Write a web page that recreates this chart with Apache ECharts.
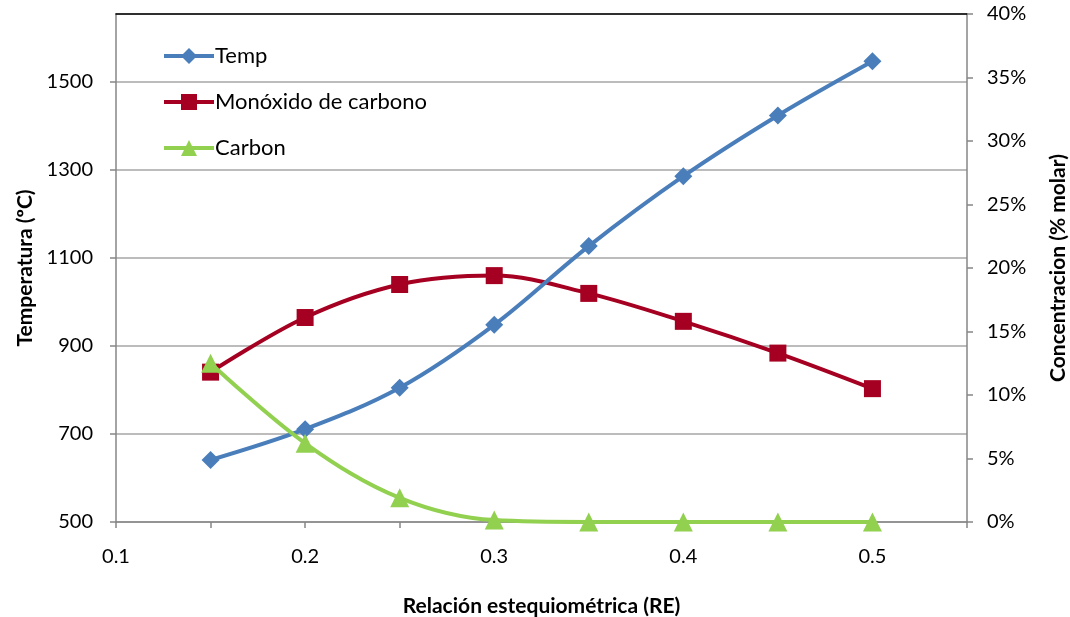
<!DOCTYPE html>
<html>
<head>
<meta charset="utf-8">
<script src="https://cdn.jsdelivr.net/npm/echarts@6/dist/echarts.min.js"></script>
<style>
  html, body { margin: 0; padding: 0; background: #fff; }
  #chart { width: 1070px; height: 617px; }
</style>
</head>
<body>
<div id="chart"></div>
<script>
// Relación estequiométrica (RE)
const re = [0.15, 0.2, 0.25, 0.3, 0.35, 0.4, 0.45, 0.5];
// Temperatura (ºC)
const temp = [641, 711, 805, 948, 1127, 1286, 1424, 1547];
// Concentración molar (%)
const monoxido = [11.8, 16.1, 18.7, 19.4, 18.0, 15.8, 13.3, 10.5];
const carbon = [12.5, 6.2, 1.9, 0.15, 0, 0, 0, 0];

const seriesNames = ['Temp', 'Monóxido de carbono', 'Carbon'];

const pair = (xs, ys) => xs.map((x, i) => [x, ys[i]]);

const font = 'Lato, "Open Sans", sans-serif';
const axisGray = '#868686';
const gridGray = '#a6a6a6';
const titleStyle = { fontFamily: font, fontSize: 21, fontWeight: 'bold', color: '#000' };

const chart = echarts.init(document.getElementById('chart'));
chart.setOption({
  animation: false,
  backgroundColor: '#fff',
  textStyle: { fontFamily: font },
  grid: { left: 116, right: 103, top: 14, bottom: 95, outerBoundsMode: 'none', containLabel: false },
  legend: {
    orient: 'vertical',
    left: 157,
    top: 40,
    itemWidth: 50,
    itemHeight: 20,
    itemGap: 24,
    lineStyle: { width: 4 },
    textStyle: { fontFamily: font, fontSize: 22, color: '#000', padding: [0, 0, 0, -4] },
    data: seriesNames
  },
  xAxis: [{
    type: 'value',
    min: 0.1,
    max: 0.55,
    interval: 0.05,
    name: 'Relación estequiométrica (RE)',
    nameLocation: 'middle',
    nameGap: 74,
    nameTextStyle: titleStyle,
    axisLine: { lineStyle: { color: axisGray, width: 1.5 } },
    axisTick: { show: true, length: 6, lineStyle: { color: axisGray, width: 1.5 } },
    axisLabel: {
      fontSize: 20, color: '#000', margin: 25,
      formatter: v => (Math.round(v * 100) % 10 === 0 && v < 0.54) ? v.toFixed(1) : ''
    },
    splitLine: { show: false }
  }, {
    type: 'value',
    position: 'top',
    min: 0.1,
    max: 0.55,
    axisLine: { show: true, lineStyle: { color: '#000', width: 1.5 } },
    axisTick: { show: false },
    axisLabel: { show: false },
    splitLine: { show: false }
  }],
  yAxis: [{
    type: 'value',
    min: 500,
    max: 1654.5,
    interval: 200,
    name: 'Temperatura (ºC)',
    nameLocation: 'middle',
    nameGap: 75,
    nameRotate: 90,
    nameTextStyle: titleStyle,
    axisLine: { show: true, lineStyle: { color: axisGray, width: 1.5 } },
    axisTick: { show: true, length: 6, lineStyle: { color: axisGray, width: 1.5 } },
    axisLabel: { fontSize: 20, color: '#000', margin: 23, showMaxLabel: false, formatter: v => String(v) },
    splitLine: { show: true, lineStyle: { color: gridGray, width: 1.5 } }
  }, {
    type: 'value',
    position: 'right',
    min: 0,
    max: 40,
    interval: 5,
    name: 'Concentracion (% molar)',
    nameLocation: 'middle',
    nameGap: 81,
    nameRotate: 90,
    nameTextStyle: titleStyle,
    axisLine: { show: true, lineStyle: { color: axisGray, width: 1.5 } },
    axisTick: { show: true, length: 6, lineStyle: { color: axisGray, width: 1.5 } },
    axisLabel: { fontSize: 20, color: '#000', margin: 20, formatter: v => v + '%' },
    splitLine: { show: false }
  }],
  series: [{
    name: seriesNames[0],
    type: 'line',
    yAxisIndex: 0,
    data: pair(re, temp),
    smooth: 0.35,
    symbol: 'diamond',
    symbolSize: 18,
    itemStyle: { color: '#4a7ebb' },
    lineStyle: { color: '#4a7ebb', width: 4 },
    z: 3
  }, {
    name: seriesNames[1],
    type: 'line',
    yAxisIndex: 1,
    data: pair(re, monoxido),
    smooth: 0.35,
    symbol: 'rect',
    symbolSize: 17,
    itemStyle: { color: '#a50021' },
    lineStyle: { color: '#a50021', width: 4 },
    z: 2
  }, {
    name: seriesNames[2],
    type: 'line',
    yAxisIndex: 1,
    data: pair(re, carbon),
    smooth: 0.35,
    symbol: 'triangle',
    symbolSize: 19,
    itemStyle: { color: '#92d050' },
    lineStyle: { color: '#92d050', width: 4 },
    z: 4
  }]
});
</script>
</body>
</html>
